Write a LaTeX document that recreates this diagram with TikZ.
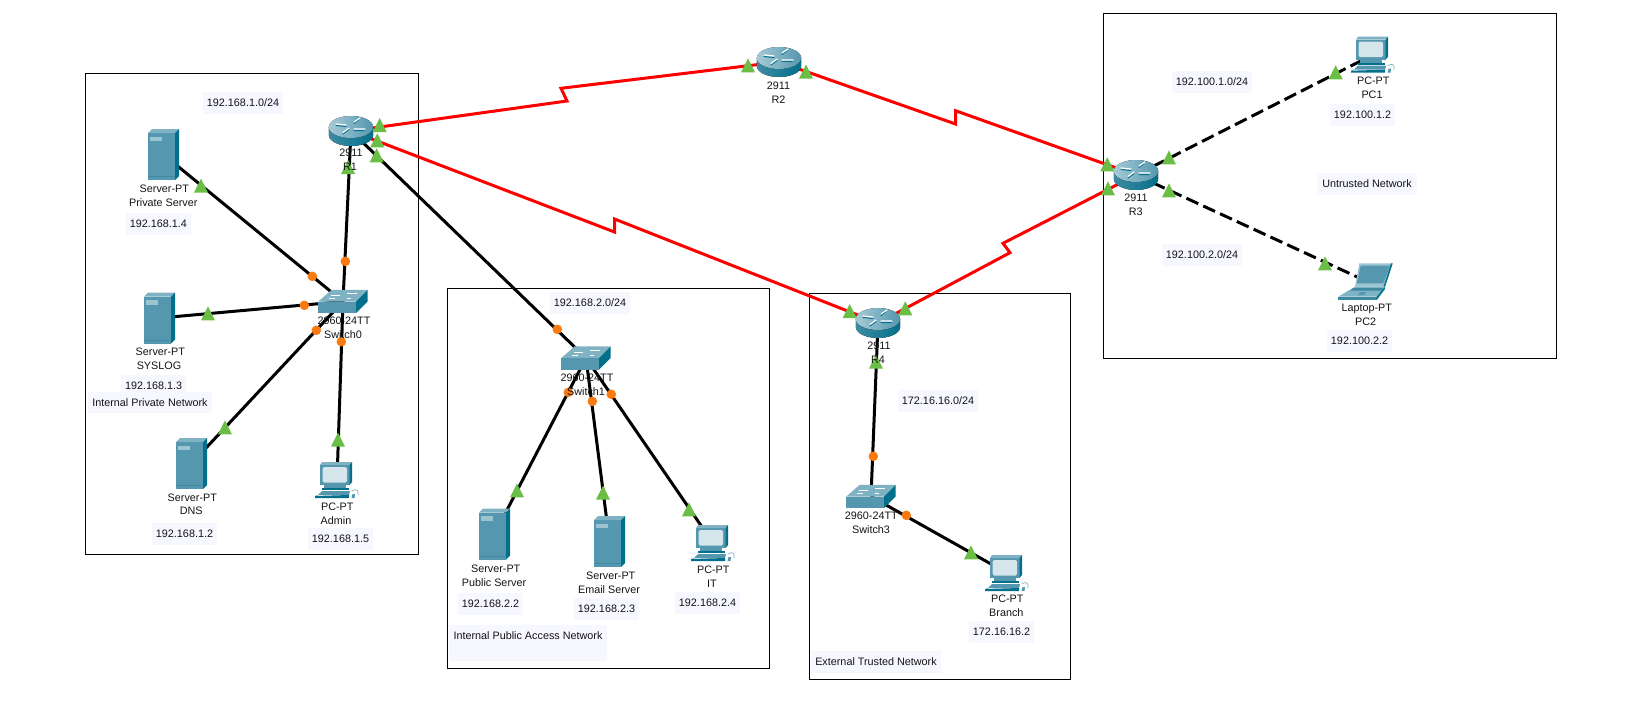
\documentclass[tikz,border=0pt]{standalone}
\usepackage{fontspec}
\setmainfont{Liberation Sans}
\usetikzlibrary{arrows.meta}
\definecolor{srvfront}{HTML}{5497AE}
\definecolor{srvside}{HTML}{02708A}
\definecolor{srvtop}{HTML}{7FB2C3}
\definecolor{srvslot}{HTML}{9CC4D2}
\definecolor{srvline}{HTML}{3F8AA3}
\definecolor{screen}{HTML}{D4E5EB}
\definecolor{lblbg}{HTML}{F6F7FF}
\definecolor{portup}{HTML}{6ABD45}
\definecolor{portamber}{HTML}{F97A10}
\definecolor{serial}{HTML}{FF0000}
\tikzset{
  areabox/.style={draw=black,line width=1pt,fill=none},
  dev/.style={inner sep=0pt,outer sep=0pt,minimum width=#1},
  cable/.style={line width=3pt,draw=black},
  serialcable/.style={line width=3pt,draw=serial,line join=miter},
  wanfiber/.style={line width=3pt,draw=black,dash pattern=on 13pt off 5.5pt},
  devtext/.style={inner sep=0pt,font=\fontsize{10.8}{14}\selectfont,text=black!92,text height=10pt,text depth=2.2pt},
  note/.style={inner sep=0pt,fill=lblbg,minimum width=65pt,minimum height=21.7pt,font=\fontsize{10.8}{14}\selectfont,text=black!92,text height=10pt,text depth=2.2pt},
  subnet/.style={note,minimum width=80pt},
  serverpic/.pic={
    \fill[srvfront] (-15.5,-21.5) rectangle (11.5,25.5);
    \fill[srvtop] (-15.5,-21.5) -- (-11.5,-25.5) -- (15.5,-25.5) -- (11.5,-21.5) -- cycle;
    \fill[srvside] (11.5,-21.5) -- (15.5,-25.5) -- (15.5,21.5) -- (11.5,25.5) -- cycle;
    \fill[srvslot] (-13.5,-18) rectangle (-1.5,-13.5);
    \fill[srvline] (-15.5,21.5) rectangle (11.5,22.3);
  },
  pcpic/.pic={
    \fill[srvfront] (-17,-15) rectangle (12.5,5);
    \fill[srvtop] (-17,-15) -- (-15,-18) -- (15,-18) -- (12.5,-15) -- cycle;
    \fill[srvside] (12.5,-15) -- (15,-18) -- (15,2) -- (12.5,5) -- cycle;
    \fill[screen,rounded corners=1.5pt] (-14.5,-13) rectangle (10,2.5);
    \fill[srvfront] (-13,5) rectangle (9,8);
    \fill[srvside] (-15,8) -- (12,8) -- (12,10) -- (-15,10) -- cycle;
    \fill[srvfront] (-22,18) -- (-15,11) -- (13,11) -- (12,15) -- (-20,15) -- cycle;
    \fill[srvside] (-22,16) -- (12,15) -- (12,18) -- (-22,18) -- cycle;
    \fill[srvfront] (14.5,18) -- (15.5,14) -- (18,14) -- (17.5,18) -- cycle;
    \draw[srvtop,line width=0.7pt] (15,11) .. controls (19,8) and (22,10) .. (21,15);
  },
  laptoppic/.pic={
    \fill[srvslot] (-6.7,-17.7) -- (26.7,-17.7) -- (19,5.7) -- (-11,5.7) -- cycle;
    \fill[srvside] (26.7,-17.7) -- (25,-17.7) -- (17.5,5.7) -- (19,5.7) -- cycle;
    \fill[srvfront] (-5.3,-15.3) -- (24,-15.3) -- (17.3,2.3) -- (-9.3,2.3) -- cycle;
    \fill[srvtop] (-11,5.7) -- (19,5.7) -- (10.7,15.7) -- (-27.7,15.7) -- cycle;
    \fill[srvline] (-13,7) -- (17.5,7) -- (15.5,9.5) -- (-15.5,9.5) -- cycle;
    \fill[srvfront] (-6,11) -- (0,11) -- (-2,14) -- (-8,14) -- cycle;
    \fill[srvline] (-27.7,15.7) -- (10.7,15.7) -- (10.7,19) -- (-27.7,19) -- cycle;
    \fill[srvside] (19,5.7) -- (19,8) -- (10.7,19) -- (10.7,15.7) -- cycle;
  },
  routerpic/.pic={
    \fill[left color=srvline,middle color=white!85!srvfront,right color=srvside]
      (-22.2,-4) -- (-22.2,4) arc[start angle=180,end angle=0,x radius=22.2,y radius=11] -- (22.2,-4) -- cycle;
    \fill[left color=srvslot!90!white,right color=srvfront] (0,-4) ellipse[x radius=22.2,y radius=11];
    \draw[srvside,line width=1pt,line cap=round] (-15,-5.5) -- (-5,-4.5) (3,-0.5) -- (13,-0.5) (-8,3) -- (-2,-1.5) (3,-7.5) -- (8,-11.5);
    \draw[white,line width=1.2pt,line cap=round] (-15,-7) -- (-5,-6) (3,-2) -- (14,-2) (-8,1.5) -- (-2,-3) (3,-9) -- (9,-13);
  },
  switchpic/.pic={
    \fill[srvtop] (-24.7,0) -- (-11.3,-11.7) -- (24.7,-11.7) -- (13,0) -- cycle;
    \fill[srvfront] (-24.7,0) rectangle (13,11.7);
    \fill[srvside] (13,0) -- (24.7,-11.7) -- (24.7,0) -- (13,11.7) -- cycle;
    \draw[white,line width=0.7pt] (-12,-6) -- (-3,-6) (4,-8) -- (14,-8) (-14,-3) -- (-8,-3) (4,-3) -- (8,-3);
  },
}
\begin{document}
\begin{tikzpicture}[x=1pt,y=-1pt]
\useasboundingbox (0,0) rectangle (1645,725);
% area frames
\draw[areabox] (85.3,73.3) rectangle (418.7,554.3);
\draw[areabox] (447.3,288.3) rectangle (769.3,668.3);
\draw[areabox] (809.3,293.3) rectangle (1070.3,679.3);
\draw[areabox] (1103.3,13.3) rectangle (1556.7,358.7);
% device anchors
\node[dev=44.4pt,minimum height=30pt] (R1) at (351,131) {};
\node[dev=44.4pt,minimum height=30pt] (R2) at (779,62) {};
\node[dev=44.4pt,minimum height=30pt] (R3) at (1136,175) {};
\node[dev=44.4pt,minimum height=30pt] (R4) at (878,323) {};
\node[dev=49.4pt,minimum height=23.4pt] (Sw0) at (343,301.5) {};
\node[dev=49.4pt,minimum height=23.4pt] (Sw1) at (586,358) {};
\node[dev=49.4pt,minimum height=23.4pt] (Sw3) at (871,496.5) {};
\node[dev=31pt,minimum height=51pt] (Priv) at (163.5,154.5) {};
\node[dev=31pt,minimum height=51pt] (Syslog) at (159.5,318) {};
\node[dev=31pt,minimum height=51pt] (Dns) at (191.5,463.5) {};
\node[dev=31pt,minimum height=51pt] (Pub) at (494.5,534) {};
\node[dev=31pt,minimum height=51pt] (Mail) at (609.5,541.5) {};
\node[dev=44pt,minimum height=36pt] (Admin) at (337,480) {};
\node[dev=44pt,minimum height=36pt] (It) at (713,543) {};
\node[dev=44pt,minimum height=36pt] (Branch) at (1007,573) {};
\node[dev=44pt,minimum height=36pt] (PC1) at (1373,54.7) {};
\node[dev=54pt,minimum height=37pt] (PC2) at (1366,281) {};
% bend points of the serial links
\coordinate (a1) at (567,101);
\coordinate (a2) at (561,88.3);
\coordinate (b1) at (955.5,124);
\coordinate (b2) at (955.5,110.7);
\coordinate (c1) at (614.5,232);
\coordinate (c2) at (614.5,219);
\coordinate (d1) at (1003,243.3);
\coordinate (d2) at (1010,252.7);
% links
\draw[serialcable] (R1.center) -- (a1) -- (a2) -- (R2.center);
\draw[serialcable] (R2.center) -- (b1) -- (b2) -- (R3.center);
\draw[serialcable] (R1.center) -- (c1) -- (c2) -- (R4.center);
\draw[serialcable] (R3.center) -- (d1) -- (d2) -- (R4.center);
\draw[cable] (R1.center) -- (Sw0.center);
\draw[cable] (R1.center) -- (Sw1.center);
\draw[cable] (Priv.center) -- (Sw0.center);
\draw[cable] (Syslog.center) -- (Sw0.center);
\draw[cable] (Dns.center) -- (Sw0.center);
\draw[cable] (Admin.center) -- (Sw0.center);
\draw[cable] (Sw1.center) -- (Pub.center);
\draw[cable] (Sw1.center) -- (Mail.center);
\draw[cable] (Sw1.center) -- (It.center);
\draw[cable] (R4.center) -- (Sw3.center);
\draw[cable] (Sw3.center) -- (Branch.center);
\draw[wanfiber] (R3.center) -- (PC1.center);
\draw[wanfiber] (R3.center) -- (PC2.center);
% icons
\foreach \n in {R1,R2,R3,R4} \pic at (\n) {routerpic};
\foreach \n in {Sw0,Sw1,Sw3} \pic at (\n) {switchpic};
\foreach \n in {Priv,Syslog,Dns,Pub,Mail} \pic at (\n) {serverpic};
\foreach \n in {Admin,It,Branch,PC1} \pic at (\n) {pcpic};
\pic at (PC2) {laptoppic};
% link lights
\foreach \x/\y in {201/185.7,379.7/125,377.3/140.3,376.7/155.3,348/167,208/313.3,225/427.3,338/439.7,
  517/490.3,603/492.7,689/509.3,849.7/311,905.3/308.3,876/361.7,971/552.3,
  1335.7/72.3,1169/157.3,1107.3/164.3,1108/188.3,1169/190.3,1325/263.3,748/65.3,806/71.7}
  \fill[portup] (\x-7,\y+7) -- (\x,\y-7) -- (\x+7,\y+7) -- cycle;
\foreach \x/\y in {312.3/276.3,345.3/261.3,304.3/305.3,316.3/330.3,341.3/341.7,
  557.3/329.3,568.3/392.3,592.3/401.3,611.3/394.3,873.3/456.3,906.3/515.3}
  \fill[portamber] (\x,\y) circle[radius=4.8];
% device captions
\node[devtext] (t1) at (351,153) {2911};
\node[devtext] (t2) at (350,167) {R1};
\node[devtext] (t3) at (778.5,85.3) {2911};
\node[devtext] (t4) at (778.5,99.3) {R2};
\node[devtext] (t5) at (1136,198) {2911};
\node[devtext] (t6) at (1135.7,212) {R3};
\node[devtext] (t7) at (879,346) {2911};
\node[devtext] (t8) at (878,360) {R4};
\node[devtext] (t9) at (344,321) {2960-24TT};
\node[devtext] (t10) at (343,335) {Switch0};
\node[devtext] (t11) at (587,377.3) {2960-24TT};
\node[devtext] (t12) at (586,391.3) {Switch1};
\node[devtext] (t13) at (871.3,516) {2960-24TT};
\node[devtext] (t14) at (871,530) {Switch3};
\node[devtext] (t15) at (164.3,188.3) {Server-PT};
\node[devtext] (t16) at (163.3,202.3) {Private Server};
\node[devtext] (t17) at (160.3,352) {Server-PT};
\node[devtext] (t18) at (159,366) {SYSLOG};
\node[devtext] (t19) at (192.3,497.3) {Server-PT};
\node[devtext] (t20) at (191.3,511) {DNS};
\node[devtext] (t21) at (337.3,506.3) {PC-PT};
\node[devtext] (t22) at (336,520.3) {Admin};
\node[devtext] (t23) at (495.7,568.3) {Server-PT};
\node[devtext] (t24) at (494,582.3) {Public Server};
\node[devtext] (t25) at (610.7,575.3) {Server-PT};
\node[devtext] (t26) at (609,589.3) {Email Server};
\node[devtext] (t27) at (713.3,569.3) {PC-PT};
\node[devtext] (t28) at (712,583.3) {IT};
\node[devtext] (t29) at (1007.3,599) {PC-PT};
\node[devtext] (t30) at (1006.3,613) {Branch};
\node[devtext] (t31) at (1373.3,81) {PC-PT};
\node[devtext] (t32) at (1372,95) {PC1};
\node[devtext] (t33) at (1366.7,308) {Laptop-PT};
\node[devtext] (t34) at (1365.7,322) {PC2};
% notes
\node[subnet] (n1) at (243,103) {192.168.1.0/24};
\node[note] (n2) at (158.3,224) {192.168.1.4};
\node[note] (n3) at (153.7,386) {192.168.1.3};
\node[note,minimum width=123.4pt] (n4) at (150,402.5) {Internal Private Network};
\node[note] (n5) at (184.5,534) {192.168.1.2};
\node[note] (n6) at (340.5,539) {192.168.1.5};
\node[subnet] (n7) at (590,303) {192.168.2.0/24};
\node[note] (n8) at (490.5,604) {192.168.2.2};
\node[note] (n9) at (606.5,609) {192.168.2.3};
\node[note] (n10) at (707.5,603) {192.168.2.4};
\node[note,minimum width=158pt,minimum height=36pt,text depth=16.2pt] (n11) at (528,643) {Internal Public Access Network};
\node[subnet] (n12) at (938,401) {172.16.16.0/24};
\node[note] (n13) at (1001.5,632) {172.16.16.2};
\node[note,minimum width=130.6pt] (n14) at (876,662) {External Trusted Network};
\node[subnet] (n15) at (1212,82) {192.100.1.0/24};
\node[note] (n16) at (1362.5,115) {192.100.1.2};
\node[note,minimum width=99.4pt] (n17) at (1367,184) {Untrusted Network};
\node[subnet] (n18) at (1202,255) {192.100.2.0/24};
\node[note] (n19) at (1359.5,341) {192.100.2.2};
\end{tikzpicture}
\end{document}
